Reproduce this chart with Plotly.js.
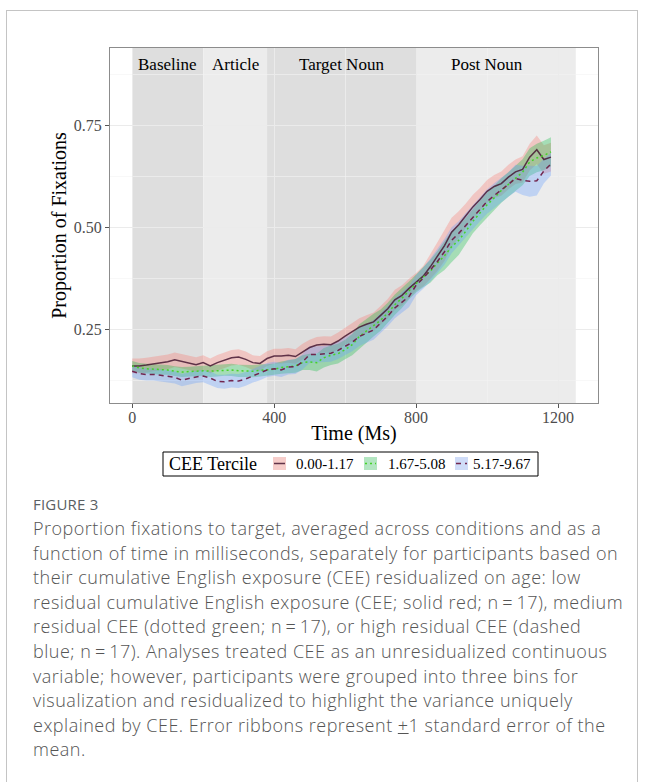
<!DOCTYPE html>
<html>
<head>
<meta charset="utf-8">
<script src="https://cdn.plot.ly/plotly-3.0.1.min.js"></script>
<style>
  html, body { margin:0; padding:0; background:#fff; width:645px; height:782px; overflow:hidden; }
  #card { position:absolute; left:6px; top:10px; width:632px; height:800px; border:1px solid #c4c4c4; box-sizing:border-box; }
  #plot { position:absolute; left:0; top:0; width:645px; height:490px; }
  #figlab { position:absolute; left:33px; top:494px; font-family:"Open Sans","Lato",sans-serif; font-size:15px; line-height:20px; color:#5a5f63; letter-spacing:0.2px; }
  #caption { position:absolute; left:33px; top:516px; font-family:"Open Sans","Lato",sans-serif; font-weight:300; font-size:18px; line-height:24.6px; letter-spacing:0.5px; color:#555; white-space:nowrap; }
</style>
</head>
<body>
<div id="card"></div>
<div id="plot"></div>
<div id="figlab">FIGURE 3</div>
<div id="caption">Proportion fixations to target, averaged across conditions and as a<br>function of time in milliseconds, separately for participants based on<br>their cumulative English exposure (CEE) residualized on age: low<br>residual cumulative English exposure (CEE; solid red; n&#8201;=&#8201;17), medium<br>residual CEE (dotted green; n&#8201;=&#8201;17), or high residual CEE (dashed<br>blue; n&#8201;=&#8201;17). Analyses treated CEE as an unresidualized continuous<br>variable; however, participants were grouped into three bins for<br>visualization and residualized to highlight the variance uniquely<br>explained by CEE. Error ribbons represent <u>+</u>1 standard error of the<br>mean.</div>
<script>
// time bins (ms)
const timeMs = [0,20,40,60,80,100,120,140,160,180,200,220,240,260,280,300,320,340,360,380,400,420,440,460,480,500,520,540,560,580,600,620,640,660,680,700,720,740,760,780,800,820,840,860,880,900,920,940,960,980,1000,1020,1040,1060,1080,1100,1120,1140,1160,1180];

// group labels
const legendTitle = "CEE Tercile";
const groupLabels = ["0.00-1.17", "1.67-5.08", "5.17-9.67"];

// mean proportion of fixations, low CEE (solid)
const meanLow = [0.160,0.160,0.162,0.165,0.168,0.170,0.175,0.171,0.168,0.163,0.168,0.160,0.168,0.174,0.180,0.182,0.176,0.168,0.166,0.178,0.184,0.184,0.186,0.183,0.195,0.205,0.211,0.213,0.212,0.221,0.233,0.243,0.255,0.262,0.268,0.284,0.300,0.322,0.333,0.350,0.366,0.380,0.403,0.428,0.455,0.488,0.506,0.528,0.550,0.568,0.588,0.600,0.607,0.623,0.636,0.642,0.672,0.690,0.666,0.672];
// mean, medium CEE (dotted)
const meanMid = [0.160,0.155,0.153,0.152,0.150,0.150,0.147,0.145,0.146,0.147,0.148,0.147,0.148,0.150,0.150,0.148,0.148,0.147,0.149,0.150,0.152,0.156,0.158,0.160,0.168,0.170,0.168,0.180,0.186,0.190,0.200,0.212,0.232,0.246,0.260,0.272,0.290,0.310,0.326,0.345,0.362,0.378,0.392,0.412,0.430,0.452,0.468,0.490,0.515,0.535,0.555,0.572,0.590,0.605,0.620,0.635,0.660,0.670,0.676,0.685];
// mean, high CEE (dashed)
const meanHigh = [0.147,0.141,0.139,0.139,0.137,0.134,0.132,0.125,0.129,0.133,0.135,0.130,0.122,0.121,0.124,0.123,0.128,0.136,0.142,0.150,0.153,0.150,0.157,0.158,0.170,0.188,0.188,0.189,0.191,0.198,0.208,0.218,0.232,0.240,0.248,0.265,0.282,0.302,0.316,0.330,0.358,0.375,0.395,0.416,0.440,0.468,0.485,0.505,0.525,0.545,0.563,0.578,0.591,0.605,0.620,0.615,0.613,0.614,0.638,0.655];

// standard errors
const seLow = [0.018,0.018,0.018,0.018,0.018,0.018,0.018,0.018,0.018,0.018,0.018,0.018,0.019,0.019,0.019,0.019,0.019,0.018,0.018,0.018,0.018,0.018,0.018,0.018,0.019,0.019,0.020,0.020,0.020,0.021,0.021,0.022,0.022,0.022,0.023,0.023,0.024,0.025,0.025,0.024,0.022,0.025,0.030,0.035,0.038,0.035,0.033,0.030,0.030,0.028,0.028,0.028,0.030,0.030,0.030,0.032,0.033,0.035,0.035,0.035];
const seMid = [0.012,0.012,0.012,0.012,0.012,0.012,0.012,0.012,0.012,0.012,0.012,0.014,0.014,0.014,0.015,0.015,0.015,0.015,0.015,0.014,0.014,0.015,0.016,0.017,0.018,0.020,0.022,0.024,0.024,0.024,0.024,0.026,0.030,0.030,0.028,0.026,0.025,0.025,0.024,0.022,0.022,0.025,0.028,0.030,0.035,0.038,0.036,0.033,0.030,0.030,0.030,0.030,0.030,0.030,0.030,0.032,0.034,0.035,0.036,0.036];
const seHigh = [0.015,0.015,0.015,0.015,0.015,0.015,0.015,0.015,0.015,0.015,0.015,0.016,0.016,0.017,0.017,0.017,0.017,0.017,0.017,0.017,0.017,0.017,0.018,0.018,0.019,0.020,0.020,0.020,0.021,0.021,0.022,0.022,0.023,0.023,0.024,0.025,0.025,0.025,0.026,0.026,0.025,0.026,0.028,0.030,0.032,0.032,0.030,0.030,0.030,0.030,0.030,0.030,0.030,0.030,0.033,0.036,0.038,0.036,0.030,0.028];

// phase regions
const phaseNames = ["Baseline", "Article", "Target Noun", "Post Noun"];
const phaseStart = [0, 200, 380, 800];
const phaseEnd = [200, 380, 800, 1250];
const phaseLabelX = [100, 290, 590, 1000];
const phaseLabelY = 0.9;

// axis ticks
const xTicks = [0, 400, 800, 1200];
const yTicks = [0.25, 0.50, 0.75];

const means = [meanLow, meanMid, meanHigh];
const ses = [seLow, seMid, seHigh];
const fillCols = ["rgba(248,118,109,0.32)", "rgba(0,186,56,0.30)", "rgba(97,156,255,0.32)"];
const keyFill = ["#f6cdca", "#b3e6c1", "#cfdcf8"];
const lineCols = ["rgba(70,25,50,0.85)", "rgba(70,210,40,1)", "rgba(110,28,70,0.95)"];
const dashes = ["solid", "2px,3px", "5px,4px"];

const traces = [];
// ribbons
for (let g = 0; g < 3; g++) {
  const up = means[g].map((v, i) => v + ses[g][i]);
  const lo = means[g].map((v, i) => v - ses[g][i]);
  traces.push({
    x: timeMs.concat(timeMs.slice().reverse()),
    y: up.concat(lo.slice().reverse()),
    type: "scatter", mode: "lines", fill: "toself",
    fillcolor: fillCols[g], line: {width: 0, color: "rgba(0,0,0,0)"},
    showlegend: false, hoverinfo: "skip"
  });
}
// lines
for (let g = 0; g < 3; g++) {
  traces.push({
    x: timeMs, y: means[g], type: "scatter", mode: "lines",
    line: {color: lineCols[g], width: 1.5, dash: dashes[g]},
    name: groupLabels[g], showlegend: false
  });
}

const shapes = phaseNames.map((n, i) => ({
  type: "rect", xref: "x", yref: "paper", x0: phaseStart[i], x1: phaseEnd[i], y0: 0, y1: 1,
  fillcolor: (i % 2 === 0) ? "rgba(0,0,0,0.13)" : "rgba(0,0,0,0.075)",
  line: {width: 0}, layer: "between"
}));

const annotations = phaseNames.map((n, i) => ({
  x: phaseLabelX[i], y: phaseLabelY, xref: "x", yref: "y", text: n, showarrow: false,
  font: {family: "Liberation Serif", size: 17, color: "#000"}, xanchor: "center", yanchor: "middle"
}));

// ---- legend (drawn as a boxed key below the panel, in paper units) ----
const M = {l: 110, r: 47, t: 48, b: 87};
const W = 645, H = 490;
const pw = W - M.l - M.r, ph = H - M.t - M.b;
const px = v => (v - M.l) / pw;          // page px -> paper x
const py = v => (H - M.b - v) / ph;      // page px -> paper y
shapes.push({type: "rect", xref: "paper", yref: "paper", x0: px(163), x1: px(538), y0: py(476), y1: py(452),
  line: {color: "#000", width: 1}, fillcolor: "#fff", layer: "above"});
annotations.push({xref: "paper", yref: "paper", x: px(167), y: py(464), xanchor: "left", yanchor: "middle",
  text: legendTitle, showarrow: false, font: {family: "Liberation Serif", size: 18, color: "#000"}});
const keyX = [273, 364, 455];
const labX = [294, 386, 471];
for (let g = 0; g < 3; g++) {
  shapes.push({type: "rect", xref: "paper", yref: "paper", x0: px(keyX[g]), x1: px(keyX[g] + 13),
    y0: py(470), y1: py(457), line: {width: 0}, fillcolor: keyFill[g], layer: "above"});
  shapes.push({type: "line", xref: "paper", yref: "paper", x0: px(keyX[g] + 1), x1: px(keyX[g] + 12),
    y0: py(463.5), y1: py(463.5), line: {color: lineCols[g], width: 1.5, dash: dashes[g]}, layer: "above"});
  annotations.push({xref: "paper", yref: "paper", x: px(labX[g]), y: py(464), xanchor: "left", yanchor: "middle",
    text: groupLabels[g], showarrow: false, font: {family: "Liberation Serif", size: 15, color: "#000"}});
}

const serif = "Liberation Serif, Times New Roman, serif";
const layout = {
  width: W, height: H,
  margin: M,
  paper_bgcolor: "rgba(0,0,0,0)", plot_bgcolor: "#fff",
  font: {family: serif, color: "#000"},
  xaxis: {
    range: [-62.5, 1312.5], tickvals: xTicks, ticktext: xTicks.map(String),
    showgrid: true, gridcolor: "#ebebeb", gridwidth: 1,
    minor: {dtick: 200, tick0: 0, showgrid: true, gridcolor: "#f3f3f3", gridwidth: 0.6},
    zeroline: false, showline: true, mirror: true, linecolor: "#8c8c8c", linewidth: 1,
    ticks: "outside", ticklen: 4, tickcolor: "#555", tickwidth: 1, ticklabelstandoff: -4,
    tickfont: {family: serif, size: 16, color: "#4d4d4d"},
    title: {text: "Time (Ms)", font: {family: serif, size: 20, color: "#000"}, standoff: 0}
  },
  yaxis: {
    range: [0.0690, 0.9396], tickvals: yTicks, ticktext: yTicks.map(v => v.toFixed(2)),
    showgrid: true, gridcolor: "#ebebeb", gridwidth: 1,
    minor: {dtick: 0.125, tick0: 0.125, showgrid: true, gridcolor: "#f3f3f3", gridwidth: 0.6},
    zeroline: false, showline: true, mirror: true, linecolor: "#8c8c8c", linewidth: 1,
    ticks: "outside", ticklen: 4, tickcolor: "#555", tickwidth: 1,
    tickfont: {family: serif, size: 16, color: "#4d4d4d"},
    title: {text: "Proportion of Fixations", font: {family: serif, size: 20, color: "#000"}, standoff: 1}
  },
  shapes: shapes,
  annotations: annotations,
  showlegend: false
};

Plotly.newPlot("plot", traces, layout, {displayModeBar: false, staticPlot: true});
</script>
</body>
</html>
